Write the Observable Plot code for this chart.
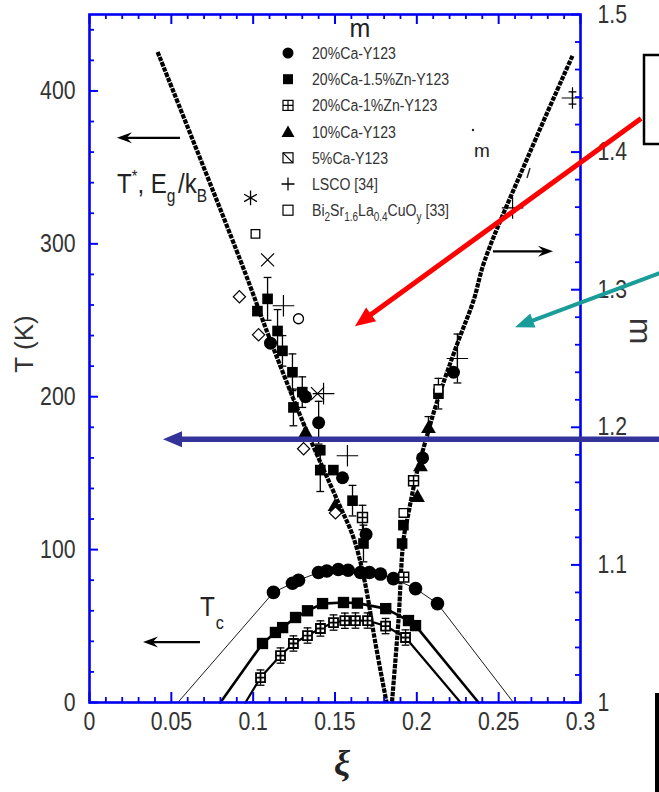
<!DOCTYPE html>
<html><head><meta charset="utf-8">
<script src="https://cdn.jsdelivr.net/npm/d3@7"></script>
<script src="https://cdn.jsdelivr.net/npm/@observablehq/plot@0.6"></script>
<style>
body{margin:0;background:#fff;}
#chart{position:relative;width:659px;height:792px;overflow:hidden;background:#fff;}
</style></head><body><div id="chart"></div>
<script>
// ---------------- data ----------------
const xMajor = [0, 0.05, 0.1, 0.15, 0.2, 0.25, 0.3];
const xTickLabels = ["0", "0.05", "0.1", "0.15", "0.2", "0.25", "0.3"];
const tMajor = [0, 100, 200, 300, 400];
const tTickLabels = ["0", "100", "200", "300", "400"];
const mMajor = [1, 1.1, 1.2, 1.3, 1.4, 1.5];
const mTickLabels = ["1", "1.1", "1.2", "1.3", "1.4", "1.5"];

// T* / Eg/kB fit line (left axis, K)
const tStarX = [0.0416, 0.0923, 0.1106, 0.1308, 0.1515, 0.1613, 0.1680, 0.1745, 0.1815];
const tStarT = [425.5, 288.9, 236.6, 182.4, 132.0, 107.8, 80.0, 40.0, 0];
// m fit line (right axis)
const mLineX = [0.2951, 0.2695, 0.2414, 0.2346, 0.2248, 0.2126, 0.2053, 0.1998, 0.1943, 0.1918, 0.1888, 0.1848];
const mLineM = [1.470, 1.401, 1.321, 1.292, 1.261, 1.2195, 1.190, 1.166, 1.134, 1.118, 1.060, 1.000];

// Tc domes
const dome1X = [0.054, 0.1124, 0.124, 0.1277, 0.1399, 0.145, 0.152, 0.158, 0.1656, 0.171, 0.1778, 0.1857, 0.1992, 0.2126, 0.259];
const dome1T = [0, 72, 78, 80, 85, 86, 87, 86.5, 85, 85, 84, 81, 74.5, 64.7, 0];
const dome2X = [0.080, 0.1057, 0.1136, 0.118, 0.1259, 0.1332, 0.1424, 0.1552, 0.1637, 0.181, 0.1949, 0.1992, 0.2377];
const dome2T = [0, 38.6, 45.8, 49, 55.6, 60, 64.7, 65.4, 65, 61.4, 53.6, 50.3, 0];
const dome3X = [0.0953, 0.1045, 0.1167, 0.1246, 0.1332, 0.1411, 0.1491, 0.1560, 0.1625, 0.1699, 0.1809, 0.1931, 0.2267];
const dome3T = [0, 16.3, 30.7, 38.6, 43.8, 48.4, 52.3, 53.5, 53.6, 53.6, 50, 42.5, 0];

// T* / Eg data points near the fit lines
const pgX =   [0.1026, 0.1088, 0.1149, 0.1106, 0.1179, 0.1240, 0.1300, 0.1320, 0.1246, 0.1400, 0.1320, 0.1410, 0.1410, 0.1490, 0.1546, 0.1607, 0.1500, 0.1668, 0.1690, 0.1674,
               0.2224, 0.2132, 0.2071, 0.2035, 0.2022, 0.1980, 0.2004, 0.1918, 0.1910, 0.1920];
const pgT =   [256, 264, 243, 235, 230, 216, 203, 200, 193, 183, 176, 165, 152, 152, 147, 132, 128, 121, 110, 104,
               216, 202, 179, 160, 154, 145, 134, 116, 104, 82];
const pgSym = ["square","square","square","circle","square","square","square","circle","square","circle","triangle","square","square","square","circle","square","triangle","grid","circle","square",
               "circle","square","triangle","circle","triangle","grid","triangle","square","square","grid"];
const pgErr = [0, 14, 14, 0, 10, 12, 10, 0, 12, 14, 0, 0, 14, 0, 0, 10, 0, 8, 0, 12,
               0, 10, 8, 0, 0, 0, 0, 0, 0, 0];

// other references (open symbols)
const refX =   [0.0984, 0.1014, 0.1088, 0.0916, 0.1185, 0.1277, 0.1033, 0.1393, 0.1430, 0.1308, 0.1576, 0.1503, 0.2248, 0.2132, 0.1918, 0.2585, 0.2951];
const refT =   [330, 306.5, 289.5, 265.4, 259.5, 251, 240.5, 202, 202, 166, 161.4, 124, 225, 205, 124, 323.5, 395.4];
const refSym = ["asterisk","openSquare","times","diamond","plus","openCircle","diamond","times","plus","diamond","plus","diamond","plus","openSquare","openSquare","plus","plus"];
const refErr = [0, 0, 0, 0, 0, 0, 0, 0, 0, 0, 0, 0, 16, 0, 0, 0, 4];

// legend
const legendLabels = ["20%Ca-Y123", "20%Ca-1.5%Zn-Y123", "20%Ca-1%Zn-Y123", "10%Ca-Y123", "5%Ca-Y123", "LSCO [34]", "Bi2Sr1.6La0.4CuOy [33]"];
const legendSyms = ["circle", "square", "grid", "triangle", "slashSquare", "plus", "openSquare"];

// ---------------- build ----------------
const BLUE = "#0000f2";
const W = 659, H = 792, ML = 89, MR = 79, MT = 14, MB = 90;
const FW = W - ML - MR, FH = H - MT - MB;
const SANS = '"Liberation Sans", Arial, sans-serif';
const mToT = m => (m - 1) * 900;

const zipXY = (X, Y) => X.map((x, i) => ({x, t: Y[i]}));
const tStar = zipXY(tStarX, tStarT);
const mLine = mLineX.map((x, i) => ({x, t: mToT(mLineM[i])}));
const dome1 = zipXY(dome1X, dome1T), dome2 = zipXY(dome2X, dome2T), dome3 = zipXY(dome3X, dome3T);
const pts = l => l.slice(1, -1);
const pg = pgX.map((x, i) => ({x, t: pgT[i], sym: pgSym[i], err: pgErr[i]}));
const ref = refX.map((x, i) => ({x, t: refT[i], sym: refSym[i], err: refErr[i]}));
const errPts = pg.concat(ref).filter(d => d.err > 0)
  .concat(pts(dome3).map(d => ({...d, err: 5})));

const gridSym = {draw(ctx, size) { const s = Math.sqrt(size / Math.PI) * 0.9;
  ctx.moveTo(-s, -s); ctx.lineTo(s, -s); ctx.lineTo(s, s); ctx.lineTo(-s, s); ctx.closePath();
  ctx.moveTo(0, -s); ctx.lineTo(0, s); ctx.moveTo(-s, 0); ctx.lineTo(s, 0); }};
const hbar = {draw(ctx, size) { const w = Math.sqrt(size / Math.PI) * 1.3; ctx.moveTo(-w, 0); ctx.lineTo(w, 0); }};

const xMinor = d3.range(1, 30).map(i => i / 100).filter(v => Math.round(v * 100) % 5 !== 0);
const tMinor = d3.range(20, 450, 20).filter(v => v % 100 !== 0);
const mMinor = d3.range(1, 25).map(i => 1 + i / 50).filter(v => Math.round(v * 50) % 5 !== 0);

const bySym = (arr, s) => arr.filter(d => d.sym === s);
const allPts = pg.concat(ref);
const dotted = {stroke: "black", strokeWidth: 4.2, strokeDasharray: "4.5,1.1", strokeLinecap: "butt", strokeLinejoin: "miter", curve: "catmull-rom"};

const plot = Plot.plot({
  width: W, height: H, marginLeft: ML, marginRight: MR, marginTop: MT, marginBottom: MB,
  x: {domain: [0, 0.3], axis: null},
  y: {domain: [0, 450], axis: null},
  style: {fontFamily: SANS, background: "white", overflow: "visible", color: "black"},
  marks: [
    // data lines
    Plot.line(dome1, {x: "x", y: "t", stroke: "black", strokeWidth: 0.9}),
    Plot.line(dome2, {x: "x", y: "t", stroke: "black", strokeWidth: 2.6}),
    Plot.line(dome3, {x: "x", y: "t", stroke: "black", strokeWidth: 2.2}),
    Plot.line(tStar, {x: "x", y: "t", ...dotted}),
    Plot.line(mLine, {x: "x", y: "t", ...dotted}),
    // error bars
    Plot.ruleX(errPts, {x: "x", y1: d => d.t - d.err, y2: d => d.t + d.err, stroke: "black", strokeWidth: 1.3}),
    Plot.dot(errPts, {x: "x", y: d => d.t + d.err, symbol: hbar, r: 3, stroke: "black", strokeWidth: 1.3}),
    Plot.dot(errPts, {x: "x", y: d => d.t - d.err, symbol: hbar, r: 3, stroke: "black", strokeWidth: 1.3}),
    // dome markers
    Plot.dot(pts(dome1), {x: "x", y: "t", symbol: "circle", r: 6.8, fill: "black", stroke: "none"}),
    Plot.dot(pts(dome2), {x: "x", y: "t", symbol: "square", r: 6.4, fill: "black", stroke: "none"}),
    Plot.dot(pts(dome3), {x: "x", y: "t", symbol: gridSym, r: 5, fill: "white", stroke: "black", strokeWidth: 1.8}),
    // pseudogap / reference markers
    Plot.dot(bySym(allPts, "circle"), {x: "x", y: "t", symbol: "circle", r: 6.5, fill: "black", stroke: "none"}),
    Plot.dot(bySym(allPts, "square"), {x: "x", y: "t", symbol: "square", r: 6, fill: "black", stroke: "none"}),
    Plot.dot(bySym(allPts, "triangle"), {x: "x", y: "t", symbol: "triangle", r: 5.5, fill: "black", stroke: "none"}),
    Plot.dot(bySym(allPts, "grid"), {x: "x", y: "t", symbol: gridSym, r: 5.5, fill: "white", stroke: "black", strokeWidth: 1.5}),
    Plot.dot(bySym(allPts, "openSquare"), {x: "x", y: "t", symbol: "square2", r: 5.5, fill: "white", stroke: "black", strokeWidth: 1.3}),
    Plot.dot(bySym(allPts, "diamond"), {x: "x", y: "t", symbol: "diamond2", r: 5.5, fill: "white", stroke: "black", strokeWidth: 1.2}),
    Plot.dot(bySym(allPts, "times"), {x: "x", y: "t", symbol: "times", r: 6, stroke: "black", strokeWidth: 1.2}),
    Plot.dot(bySym(allPts, "plus"), {x: "x", y: "t", symbol: "plus", r: 7, stroke: "black", strokeWidth: 1.2}),
    Plot.dot(bySym(allPts, "asterisk"), {x: "x", y: "t", symbol: "asterisk", r: 7, stroke: "black", strokeWidth: 1.3}),
    Plot.dot(bySym(allPts, "openCircle"), {x: "x", y: "t", symbol: "circle", r: 5, fill: "none", stroke: "black", strokeWidth: 1.3}),
    // frame + ticks
    Plot.frame({stroke: BLUE, strokeWidth: 2.6}),
    Plot.tickX(xMinor, {x: d => d, insetTop: FH - 5, stroke: BLUE, strokeWidth: 1.8}),
    Plot.tickX(xMajor, {x: d => d, insetTop: FH - 10, stroke: BLUE, strokeWidth: 2}),
    Plot.tickX(xMinor, {x: d => d, insetBottom: FH - 5, stroke: BLUE, strokeWidth: 1.8}),
    Plot.tickX(xMajor, {x: d => d, insetBottom: FH - 10, stroke: BLUE, strokeWidth: 2}),
    Plot.tickY(tMinor, {y: d => d, insetRight: FW - 5, stroke: BLUE, strokeWidth: 1.8}),
    Plot.tickY(tMajor, {y: d => d, insetRight: FW - 9, stroke: BLUE, strokeWidth: 2}),
    Plot.tickY(mMinor, {y: d => mToT(d), insetLeft: FW - 5, stroke: BLUE, strokeWidth: 1.8}),
    Plot.tickY(mMajor, {y: d => mToT(d), insetLeft: FW - 9, stroke: BLUE, strokeWidth: 2}),
    // tick labels
    Plot.text(xMajor, {x: d => d, text: (d, i) => xTickLabels[i], frameAnchor: "bottom", dy: 27, fontSize: 25, fill: "#333"}),
    Plot.text(tMajor, {y: d => d, text: (d, i) => tTickLabels[i], frameAnchor: "left", dx: -14, textAnchor: "end", fontSize: 25, fill: "#333"}),
    Plot.text(mMajor, {y: d => mToT(d), text: (d, i) => mTickLabels[i], frameAnchor: "right", dx: 17, textAnchor: "start", fontSize: 25, fill: "#333"})
  ]
});
document.getElementById("chart").appendChild(plot);

const svg = d3.select(plot);
// condense tick labels horizontally (narrow face as in the original)
svg.selectAll('g[aria-label="text"] text').each(function () {
  const tr = this.getAttribute("transform") || "";
  this.setAttribute("transform", tr + " scale(0.85,1)");
});

// ---------------- annotations ----------------
const sxs = plot.scale("x"), sys = plot.scale("y");
const fx = d3.scaleLinear().domain([0, 0.3]).range([ML, W - MR]);
const fy = d3.scaleLinear().domain([0, 450]).range([H - MB, MT]);
const X = v => (sxs && sxs.apply) ? sxs.apply(v) : fx(v);
const Y = v => (sys && sys.apply) ? sys.apply(v) : fy(v);

const ann = svg.append("g");

function arrow(from, to, o) {
  const x1 = X(from[0]), y1 = Y(from[1]), x2 = X(to[0]), y2 = Y(to[1]);
  const dx = x2 - x1, dy = y2 - y1, L = Math.hypot(dx, dy), ux = dx / L, uy = dy / L, px = -uy, py = ux;
  const bx = x2 - ux * o.hl, by = y2 - uy * o.hl;
  const nx = x2 - ux * o.hl * (1 - o.barb), ny = y2 - uy * o.hl * (1 - o.barb);
  ann.append("line").attr("x1", x1).attr("y1", y1).attr("x2", nx + ux).attr("y2", ny + uy)
    .attr("stroke", o.color).attr("stroke-width", o.width);
  ann.append("path").attr("d", `M${x2},${y2}L${bx + px * o.hw / 2},${by + py * o.hw / 2}L${nx},${ny}L${bx - px * o.hw / 2},${by - py * o.hw / 2}Z`)
    .attr("fill", o.color);
}
const arrowsAnn = [
  {from: [0.0556, 369], to: [0.0171, 369], color: "black", width: 2.2, hl: 15, hw: 11, barb: 0.35},
  {from: [0.2468, 294.8], to: [0.2835, 294.8], color: "black", width: 2.2, hl: 15, hw: 11, barb: 0.35},
  {from: [0.0678, 39.2], to: [0.0330, 39.2], color: "black", width: 2.2, hl: 15, hw: 11, barb: 0.35},
  {from: [0.3373, 381.7], to: [0.1625, 245.8], color: "#ff0000", width: 5, hl: 20, hw: 17, barb: 0},
  {from: [0.3560, 283.5], to: [0.2603, 245.1], color: "#1a9c98", width: 4, hl: 19, hw: 15, barb: 0},
  {from: [0.3560, 171.9], to: [0.0452, 171.9], color: "#333399", width: 5.5, hl: 19, hw: 16, barb: 0}
];

// texts (drawn before arrows so arrows overlay)
const txt = svg.insert("g", () => ann.node()).attr("text-anchor", "start");
function t(x, y, s, opts = {}) {
  const e = txt.append("text").attr("x", x).attr("y", y).attr("font-family", opts.family || SANS)
    .attr("font-size", opts.size || 25).attr("fill", opts.fill || "#222").attr("text-anchor", opts.anchor || "start").text(s);
  if (opts.weight) e.attr("font-weight", opts.weight);
  if (opts.style) e.attr("font-style", opts.style);
  if (opts.transform) e.attr("transform", opts.transform);
  if (opts.baseline) e.attr("dominant-baseline", opts.baseline);
  return e;
}
// T*, Eg/kB
{
  const e = txt.append("text").attr("transform", "translate(117,193) scale(0.86,1)").attr("text-anchor", "start")
    .attr("font-family", SANS).attr("font-size", 28).attr("fill", "#222");
  e.append("tspan").text("T");
  e.append("tspan").attr("font-size", 17).attr("dy", -11).text("*");
  e.append("tspan").attr("dy", 11).text(", E");
  e.append("tspan").attr("font-size", 18).attr("dy", 9).text("g");
  e.append("tspan").attr("dy", -9).attr("dx", 3).text("/k");
  e.append("tspan").attr("font-size", 18).attr("dy", 9).text("B");
}
// Tc
{
  const e = txt.append("text").attr("transform", "translate(200,616) scale(0.9,1)").attr("text-anchor", "start")
    .attr("font-family", SANS).attr("font-size", 27).attr("fill", "#222");
  e.append("tspan").text("T");
  e.append("tspan").attr("font-size", 18).attr("dy", 13).attr("dx", 1).text("c");
}
t(360, 37, "m", {anchor: "middle", size: 25});
t(482, 157, "m", {anchor: "middle", size: 19});
txt.append("circle").attr("cx", 473).attr("cy", 130).attr("r", 1.2).attr("fill", "#222");
txt.append("line").attr("x1", 530).attr("y1", 168).attr("x2", 527).attr("y2", 178).attr("stroke", "#222").attr("stroke-width", 1.4);
// axis titles
t(0, 0, "T (K)", {anchor: "middle", size: 26, fill: "#333", baseline: "central", transform: "translate(24,344) rotate(-90)"});
t(0, 0, "m", {anchor: "middle", size: 32, fill: "#333", baseline: "central", transform: "translate(641,331) rotate(90)"});
t(342, 763, "ξ", {anchor: "middle", size: 36, family: '"Liberation Serif", "DejaVu Serif", serif', weight: "bold", style: "italic", fill: "#222", baseline: "central"});

// legend
{
  const lg = txt.append("g");
  legendSyms.forEach((s, i) => {
    const cy = 53 + i * 26.2, cx = 288;
    const g = lg.append("g").attr("transform", `translate(${cx},${cy})`);
    if (s === "circle") g.append("circle").attr("r", 5.5).attr("fill", "black");
    if (s === "square") g.append("rect").attr("x", -5).attr("y", -5).attr("width", 10).attr("height", 10).attr("fill", "black");
    if (s === "grid") { g.append("rect").attr("x", -5).attr("y", -5).attr("width", 10).attr("height", 10).attr("fill", "none").attr("stroke", "black").attr("stroke-width", 1.2);
      g.append("path").attr("d", "M0,-5V5M-5,0H5").attr("stroke", "black").attr("stroke-width", 1.2); }
    if (s === "triangle") g.append("path").attr("d", "M0,-6L6.5,5.5L-6.5,5.5Z").attr("fill", "black");
    if (s === "slashSquare") { g.append("rect").attr("x", -5).attr("y", -5).attr("width", 10).attr("height", 10).attr("fill", "none").attr("stroke", "black").attr("stroke-width", 1.2);
      g.append("path").attr("d", "M-5,-5L5,5").attr("stroke", "black").attr("stroke-width", 1.2); }
    if (s === "plus") g.append("path").attr("d", "M0,-6.5V6.5M-6.5,0H6.5").attr("stroke", "black").attr("stroke-width", 1.3);
    if (s === "openSquare") g.append("rect").attr("x", -5).attr("y", -5).attr("width", 10).attr("height", 10).attr("fill", "none").attr("stroke", "black").attr("stroke-width", 1.2);
    const e = lg.append("text").attr("transform", `translate(312,${cy + 6}) scale(0.83,1)`).attr("text-anchor", "start")
      .attr("font-family", SANS).attr("font-size", 17).attr("fill", "#333");
    if (i === 6) {
      e.append("tspan").text("Bi");
      e.append("tspan").attr("font-size", 12).attr("dy", 5).text("2");
      e.append("tspan").attr("dy", -5).text("Sr");
      e.append("tspan").attr("font-size", 12).attr("dy", 5).text("1.6");
      e.append("tspan").attr("dy", -5).text("La");
      e.append("tspan").attr("font-size", 12).attr("dy", 5).text("0.4");
      e.append("tspan").attr("dy", -5).text("CuO");
      e.append("tspan").attr("font-size", 12).attr("dy", 5).text("y");
      e.append("tspan").attr("dy", -5).text(" [33]");
    } else e.text(legendLabels[i]);
  });
}
arrowsAnn.forEach(a => arrow(a.from, a.to, a));
// outside decorations
ann.append("rect").attr("x", 644).attr("y", 55).attr("width", 40).attr("height", 89).attr("fill", "white").attr("stroke", "black").attr("stroke-width", 2.5);
ann.append("rect").attr("x", 655).attr("y", 693).attr("width", 10).attr("height", 110).attr("fill", "black");
</script></body></html>
